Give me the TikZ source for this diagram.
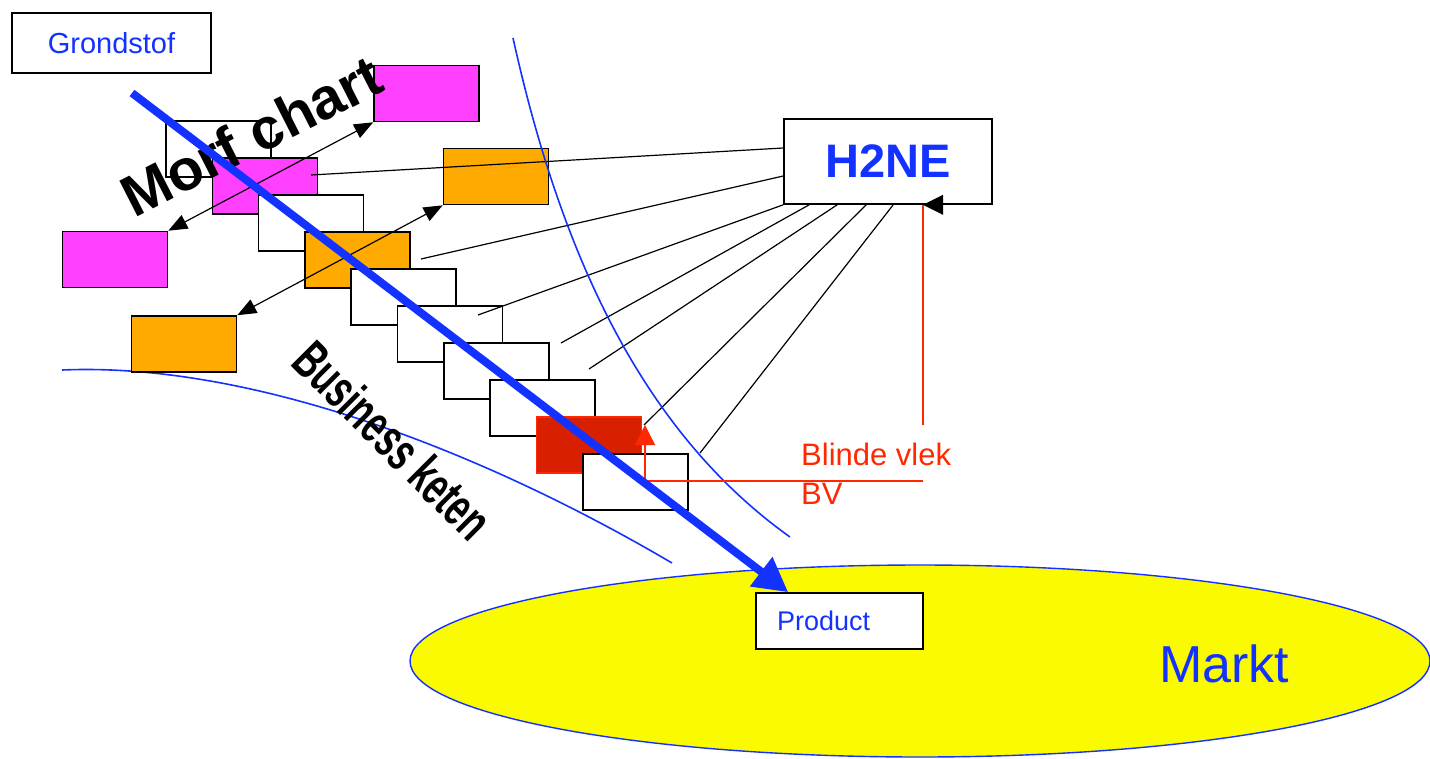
\documentclass[tikz,border=0pt]{standalone}
\usepackage{fontspec}
\setmainfont{Liberation Sans}
\newfontfamily\ketenfont[FakeStretch=0.64]{Liberation Sans Bold}
\usepackage{xcolor}
\usetikzlibrary{arrows.meta,shapes.geometric}

\definecolor{chainblue}{RGB}{20,50,255}
\definecolor{morfpink}{RGB}{255,64,255}
\definecolor{morforange}{RGB}{255,170,0}
\definecolor{spotred}{RGB}{216,32,0}
\definecolor{blindred}{RGB}{255,40,0}
\definecolor{marktyellow}{RGB}{250,250,0}

\begin{document}
\begin{tikzpicture}[x=1pt,y=-1pt,
	box/.style={rectangle,draw,line width=1.6pt,minimum width=105pt,minimum height=56pt,inner sep=0pt},
	feed/.style={line width=1.2pt},
	swap/.style={line width=1.2pt,{Triangle[length=19pt,width=15pt]}-{Triangle[length=19pt,width=15pt]}},
	curve/.style={chainblue,line width=1.6pt},
	blind/.style={blindred,line width=1.4pt},
	label/.style={font=\fontsize{#1}{#1}\selectfont}]
	\useasboundingbox (0,0) rectangle (1430,758);

	% the market
	\node[ellipse,draw=chainblue,line width=1.4pt,fill=marktyellow,minimum width=1020pt,minimum height=192pt,inner sep=0pt] (Markt) at (920,661) {};
	\node[label=52,text=chainblue] (MarktText) at (1224,664) {Markt};

	% the two boundaries
	\draw[curve] (62,370) .. controls (250,362) and (480,450) .. (672,563);

	% the boxes
	\node[box,label=29,text=chainblue,minimum width=199pt,minimum height=60pt] (Grondstof) at (111.5,43) {Grondstof};
	\node[box,fill=morfpink] (PinkTop) at (426.5,93.5) {};
	\node[box,fill=morfpink] (PinkLeft) at (115,259.5) {};
	\node[box,fill=morforange] (OrangeTop) at (496,176.5) {};
	\node[box,fill=morforange] (OrangeLeft) at (184,344) {};
	\foreach \i/\col/\edge in {1/white/black,2/morfpink/black,3/white/black,4/morforange/black,5/white/black,
		6/white/black,7/white/black,8/white/black,9/spotred/blindred,10/white/black}
		\node[box,fill=\col,draw=\edge] (Step\i) at ({218.5+46.3*(\i-1)},{149+37*(\i-1)}) {};

	\node[box,minimum width=208pt,minimum height=85pt,text=chainblue,font=\bfseries\fontsize{47}{47}\selectfont] (H2NE) at (888,161.5) {H2NE};

	% free ends of the lines
	\coordinate (End1) at (311,175);
	\coordinate (End2) at (421,259);
	\coordinate (End3) at (478,315);
	\coordinate (End4) at (561,343);
	\coordinate (End5) at (589,369);
	\coordinate (End6) at (644,425);
	\coordinate (End7) at (700,453);

	% draw the lines
	\draw[feed] ([yshift=13.5pt]H2NE.west) -- (End1);
	\draw[feed] ([yshift=-14.5pt]H2NE.west) -- (End2);
	\foreach \dx/\e in {0/End3,26/End4,54/End5,83/End6,110/End7}
		\draw[feed] ([xshift=\dx pt]H2NE.south west) -- (\e);

	\draw[swap] (PinkLeft.north east) -- (PinkTop.south west);
	\draw[swap] (OrangeLeft.north east) -- (OrangeTop.south west);

	\draw[curve] (513,38) .. controls (560,250) and (640,430) .. (790,537);

	% blind spot
	\coordinate (BlindEnd) at (923,481);
	\coordinate (BlindTip) at (645,425);
	\coordinate (BlindStart) at (923,425);
	\draw[blind,-{Triangle[length=20pt,width=20pt]}] (BlindEnd) -| (BlindTip);
	\draw[blind] (BlindStart) -- (BlindStart |- H2NE.south);
	\fill (BlindStart |- H2NE.south) -- ++(20,-10) -- ++(0,20) -- cycle;
	\node[label=31,text=blindred,anchor=base west,inner sep=0pt] (Blind) at (801,465) {Blinde vlek};
	\node[label=31,text=blindred,anchor=base west,inner sep=0pt] (BV) at (801,504) {BV};

	\node[box,minimum width=167pt,text width=125pt,align=left,label=27,text=chainblue,fill=white] (Product) at (839.5,621) {Product};

	% rotated titles
	\node[rotate=27,font=\bfseries\fontsize{58}{58}\selectfont] (MorfChart) at (251,136) {Morf chart};
	\node[rotate=-45,font=\ketenfont\fontsize{54}{54}\selectfont] (Keten) at (393,440) {Business keten};

	% the business chain
	\coordinate (ChainStart) at (132,93);
	\draw[chainblue,line width=8pt,-{Triangle[length=34pt,width=35pt]}] (ChainStart) -- ([xshift=33pt]Product.north west);
\end{tikzpicture}
\end{document}
